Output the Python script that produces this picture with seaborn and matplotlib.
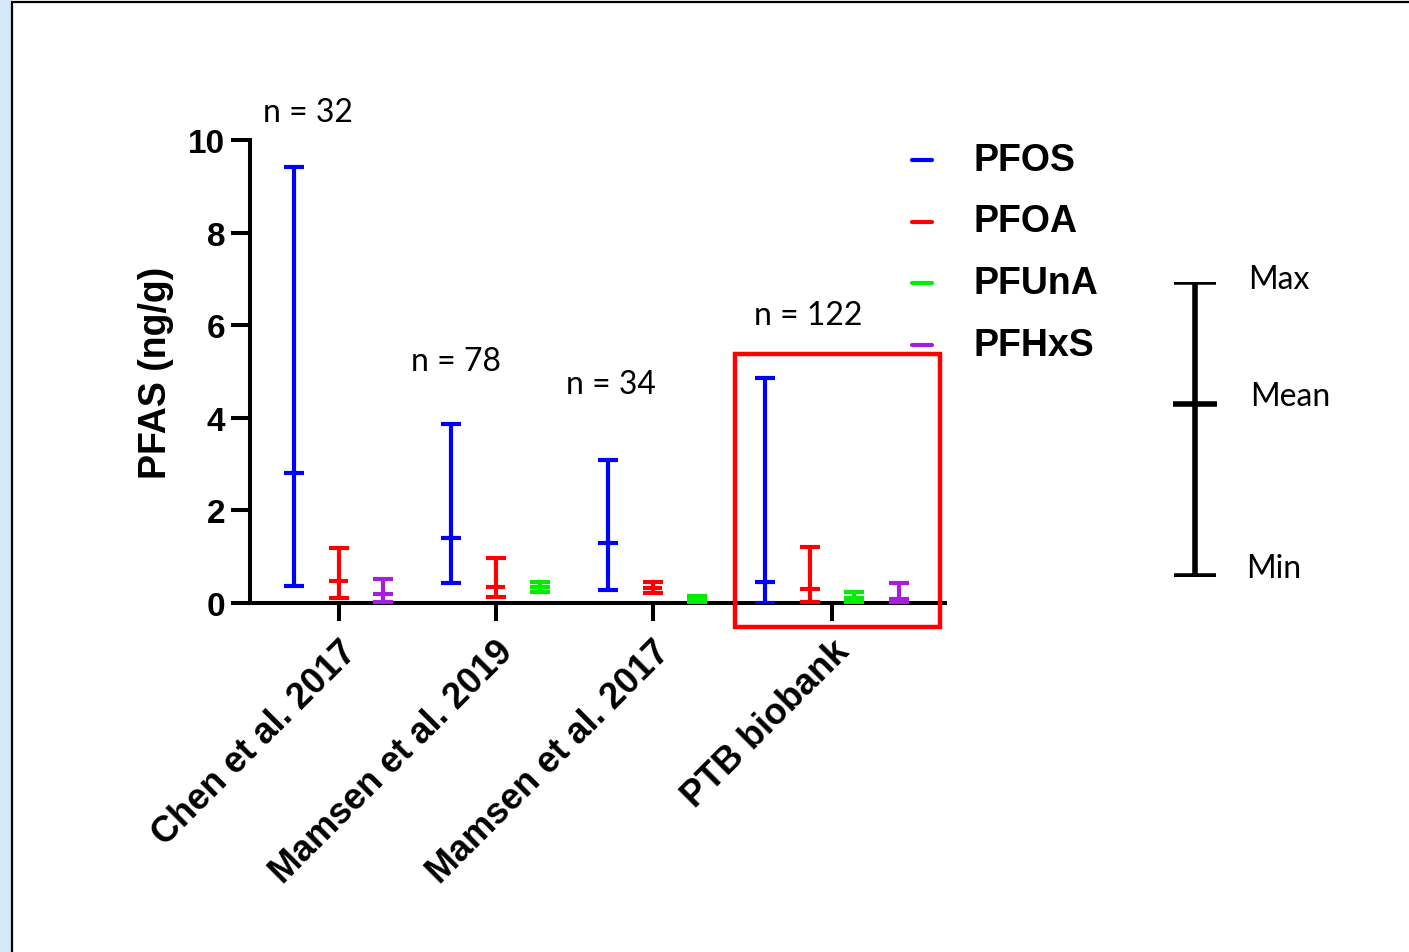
import numpy as np
import pandas as pd
import matplotlib
matplotlib.use('Agg')
import matplotlib.pyplot as plt
from matplotlib.lines import Line2D
from matplotlib.patches import Rectangle
import seaborn as sns

# values (ng/g)
studies = ['Chen et al. 2017', 'Mamsen et al. 2019', 'Mamsen et al. 2017', 'PTB biobank']
n_labels = ['n = 32', 'n = 78', 'n = 34', 'n = 122']
compounds = ['PFOS', 'PFOA', 'PFUnA', 'PFHxS']
colors = ['#0000FF', '#FF0000', '#00EE00', '#A61CE0']

# one row per measured compound within each study
study_col = ['Chen et al. 2017'] * 3 + ['Mamsen et al. 2019'] * 3 + ['Mamsen et al. 2017'] * 3 + ['PTB biobank'] * 4
compound_col = ['PFOS', 'PFOA', 'PFHxS',
                'PFOS', 'PFOA', 'PFUnA',
                'PFOS', 'PFOA', 'PFUnA',
                'PFOS', 'PFOA', 'PFUnA', 'PFHxS']
min_vals = [0.37, 0.10, 0.02, 0.43, 0.14, 0.23, 0.29, 0.21, 0.01, 0.01, 0.02, 0.02, 0.02]
mean_vals = [2.81, 0.47, 0.20, 1.40, 0.35, 0.34, 1.30, 0.33, 0.08, 0.46, 0.30, 0.10, 0.08]
max_vals = [9.42, 1.18, 0.52, 3.87, 0.98, 0.45, 3.09, 0.45, 0.15, 4.87, 1.22, 0.23, 0.43]

df = pd.DataFrame({'study': study_col, 'compound': compound_col,
                   'min': min_vals, 'mean': mean_vals, 'max': max_vals})

# bars placed one slot apart, with an extra gap between studies
group_gap = 1.53
pos = []
tick_pos = []
x = 0.0
for s in studies:
    k = (df['study'] == s).sum()
    xs = x + np.arange(k)
    pos.extend(xs)
    tick_pos.append(xs.mean())
    x = xs[-1] + group_gap
df['x'] = pos

sns.set_theme(style='white')
plt.rcParams['font.family'] = ['Liberation Sans', 'DejaVu Sans']
plt.rcParams['text.color'] = 'black'
plt.rcParams['axes.labelcolor'] = 'black'
plt.rcParams['xtick.color'] = 'black'
plt.rcParams['ytick.color'] = 'black'

fig = plt.figure(figsize=(14.09, 9.53), dpi=100)
W, H = 1409, 953
ax = fig.add_axes([250 / W, 1 - 604 / H, (945 - 250) / W, (604 - 141) / H])

palette = dict(zip(compounds, colors))
for _, r in df.iterrows():
    ax.errorbar(r['x'], r['mean'], yerr=[[r['mean'] - r['min']], [r['max'] - r['mean']]],
                fmt='none', ecolor=palette[r['compound']], elinewidth=3,
                capsize=7, capthick=3, zorder=3)
sns.scatterplot(data=df, x='x', y='mean', hue='compound', palette=palette,
                marker='_', s=200, linewidth=3, legend=False, ax=ax, zorder=4)

ax.set_xlim(-0.99, 14.63)
ax.set_ylim(0, 10)
ax.set_yticks([0, 2, 4, 6, 8, 10])
ax.set_xticks(tick_pos)
ax.set_xticklabels(studies, rotation=45, ha='right', rotation_mode='anchor',
                   fontsize=26, fontweight='bold')
ax.tick_params(axis='y', labelsize=24, length=14, width=2.9, direction='out', left=True, pad=4)
ax.tick_params(axis='x', length=13, width=2.9, direction='out', bottom=True, pad=9)
for lab in ax.get_yticklabels():
    lab.set_fontweight('bold')
ax.set_xlabel('')
ax.set_ylabel('PFAS (ng/g)', fontsize=27, fontweight='bold', labelpad=10)
for side in ['top', 'right']:
    ax.spines[side].set_visible(False)
for side in ['left', 'bottom']:
    ax.spines[side].set_linewidth(2.9)
    ax.spines[side].set_color('black')
ax.patch.set_alpha(0)

# sample sizes above each study
n_x = [0.31, 3.64, 7.12, 11.55]
n_y = [10.6, 5.23, 4.73, 6.22]
for lab, xx, yy in zip(n_labels, n_x, n_y):
    ax.text(xx, yy, lab, ha='center', va='center', fontsize=23,
            family=['Lato', 'DejaVu Sans'], clip_on=False)

# highlight box around the PTB biobank study
ax.add_patch(Rectangle((9.91, -0.52), 4.61, 5.9, fill=False, edgecolor='#FF0000',
                       linewidth=3.2, clip_on=False, zorder=5))

# legend
for i, (c, col) in enumerate(zip(compounds, colors)):
    yy = 1 - (161 + i * 61.5) / H
    fig.add_artist(Line2D([912 / W, 932 / W], [yy, yy], color=col, linewidth=3))
    fig.text(974 / W, yy, c, fontsize=27, fontweight='bold', va='center', ha='left')

# min / mean / max key
kax = fig.add_axes([1165 / W, 1 - 577 / H, 60 / W, (577 - 283) / H])
key_vals = [0.0, 0.585, 1.0]
kax.errorbar([0], [key_vals[1]], yerr=[[key_vals[1] - key_vals[0]], [key_vals[2] - key_vals[1]]],
             fmt='_', color='black', markersize=31, mew=4, elinewidth=4, capsize=15, capthick=4)
kax.set_xlim(-1, 1)
kax.set_ylim(0, 1.0)
kax.axis('off')
for lab, v, dx, dy in zip(['Min', 'Mean', 'Max'], key_vals, [0, 3, 1], [6, 6, 2]):
    kax.annotate(lab, (0, v), xytext=(37 + dx, dy), textcoords='offset points', va='center',
                 ha='left', fontsize=23, family=['Lato', 'DejaVu Sans'])

# slide frame
fig.add_artist(Rectangle((0, 0), 12 / W, 1, transform=fig.transFigure, facecolor='#d6e8f6',
                         edgecolor='none'))
fig.add_artist(Line2D([12 / W, 12 / W], [0, 1 - 3 / H], color='black', linewidth=1.6))
fig.add_artist(Line2D([12 / W, 1], [1 - 3 / H, 1 - 3 / H], color='black', linewidth=1.6))

fig.savefig('out.png', dpi=100)
